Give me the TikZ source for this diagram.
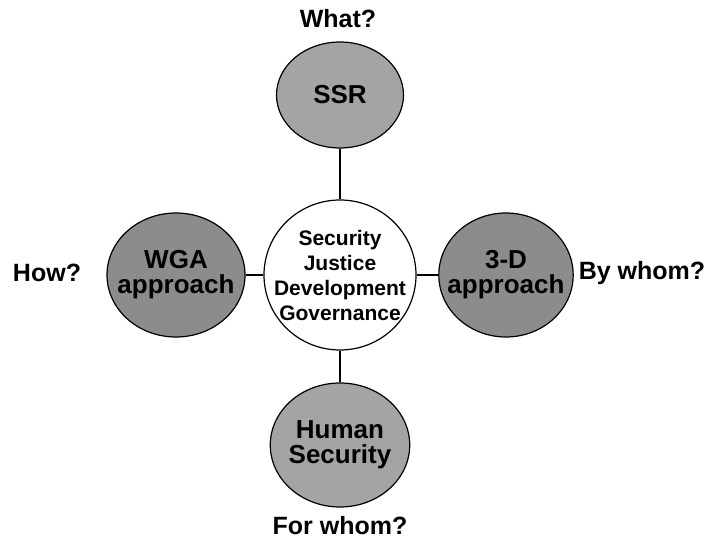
\documentclass[tikz,border=0pt]{standalone}
\usepackage{fontspec}
\setmainfont{Liberation Sans}
\usepackage{xcolor}
\usetikzlibrary{positioning, shapes.geometric}
\definecolor{lightGray}{HTML}{A4A4A4}
\definecolor{darkGray}{HTML}{8C8C8C}

\begin{document}
\begin{tikzpicture}[
  x=1pt, y=-1pt,
  every node/.style={
    align=center,
    font=\fontsize{26}{25}\selectfont\bfseries
  },
  topic/.style={
    ellipse,
    draw=black,
    line width=1.2pt,
    inner sep=0pt
  },
  question/.style={
    font=\fontsize{25}{29}\selectfont\bfseries
  },
  link/.style={
    line width=2.5pt,
    draw=black
  }
]
  \useasboundingbox (0,0) rectangle (721,545);

  % Define nodes
  \node (core) [topic, fill=white, inner xsep=-13pt, minimum width=152pt, minimum height=150pt,
    font=\fontsize{21}{25}\selectfont\bfseries] at (340,275)
    {Security\\Justice\\Development\\Governance};
  \node (ssr) [topic, fill=lightGray, minimum width=127pt, minimum height=106pt] at (340,95) {SSR};
  \node (human) [topic, fill=lightGray, inner xsep=-2pt, minimum width=130pt, minimum height=124pt] at (340,445) {Human\\Security};
  \node (wga) [topic, fill=darkGray, inner xsep=-10pt, minimum width=138pt, minimum height=124pt] at (176,275) {WGA\\approach};
  \node (threed) [topic, fill=darkGray, inner xsep=-11pt, minimum width=132pt, minimum height=124pt] at (506,275) {3-D\\approach};

  \node (what) [question] at (338,19) {What?};
  \node (forwhom) [question, below=5pt of human] {For whom?};
  \node (how) [question] at (47,273) {How?};
  \node (bywhom) [question] at (642,273) {By whom?};

  % Connect nodes with lines
  \draw[link] (ssr.south) -- (core.north);
  \draw[link] (core.south) -- (human.north);
  \draw[link] (wga.east) -- (core.west);
  \draw[link] (core.east) -- (threed.west);
\end{tikzpicture}
\end{document}
